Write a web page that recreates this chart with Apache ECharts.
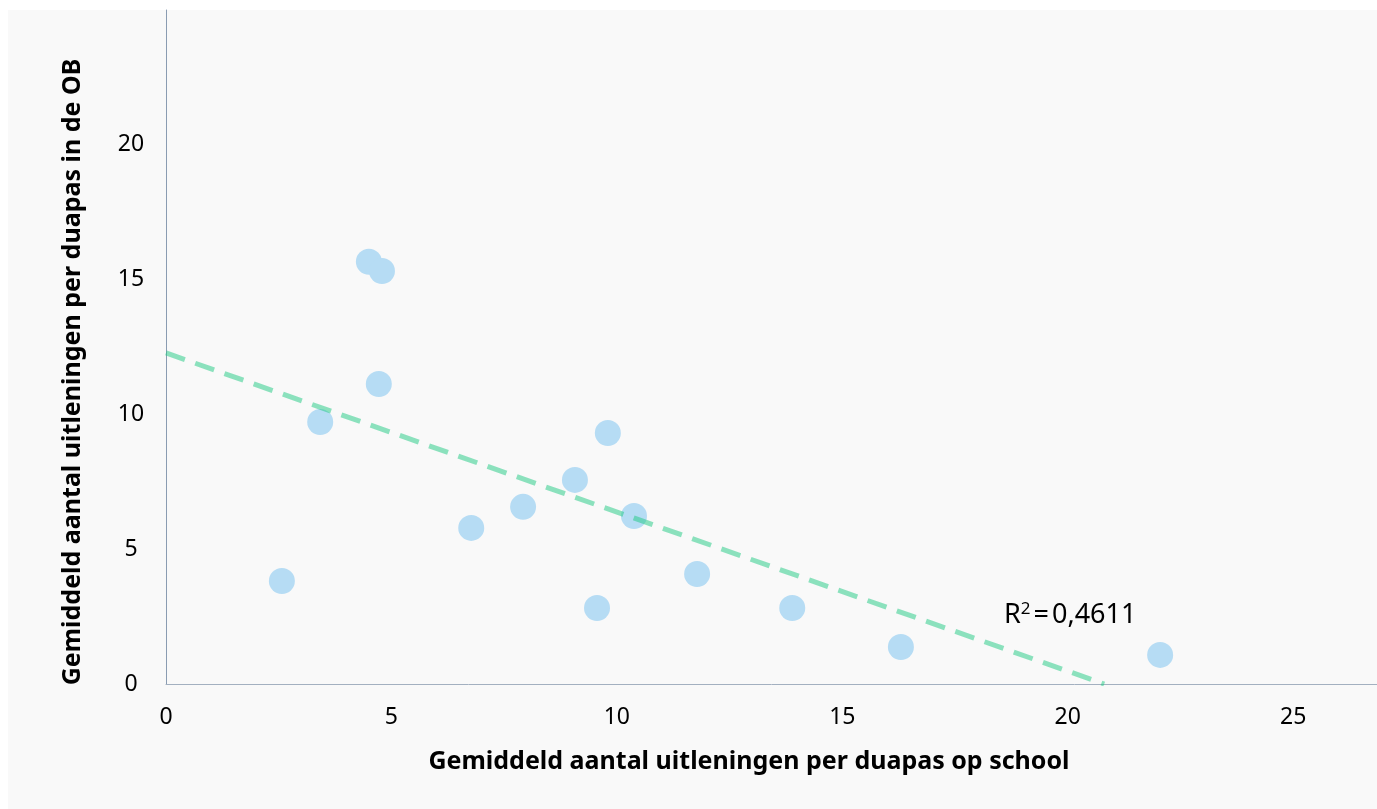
<!DOCTYPE html>
<html>
<head>
<meta charset="utf-8">
<script src="https://cdn.jsdelivr.net/npm/echarts@6/dist/echarts.min.js"></script>
<style>
html,body{margin:0;padding:0;background:#ffffff;}
#chart{width:1377px;height:809px;}
</style>
</head>
<body>
<div id="chart"></div>
<script>
// Data
var xValues = [2.57, 3.42, 4.50, 4.79, 4.72, 6.77, 7.92, 9.07, 9.80, 9.56, 10.38, 11.78, 13.89, 16.30, 22.05];
var yValues = [3.82, 9.72, 15.66, 15.32, 11.13, 5.79, 6.57, 7.57, 9.31, 2.82, 6.23, 4.08, 2.82, 1.37, 1.08];
var trendX = [0, 20.81];
var trendY = [12.28, 0];
var xTitle = 'Gemiddeld aantal uitleningen per duapas op school';
var yTitle = 'Gemiddeld aantal uitleningen per duapas in de OB';
var rSquaredLabel = '0,4611';

var points = xValues.map(function (x, i) { return [x, yValues[i]]; });
var trend = trendX.map(function (x, i) { return [x, trendY[i]]; });

var FONT = '"Noto Sans", "Open Sans", sans-serif';
var chart = echarts.init(document.getElementById('chart'), null, {renderer: 'canvas'});
chart.setOption({
  backgroundColor: '#ffffff',
  animation: false,
  graphic: [
    {type: 'rect', z: -10, silent: true, shape: {x: 8, y: 10, width: 1369, height: 799}, style: {fill: '#f9f9f9'}},
    {type: 'text', z: 10, x: 749, y: 762, style: {text: xTitle, font: 'bold 25px ' + FONT, fill: '#000000', textAlign: 'center', textVerticalAlign: 'middle'}},
    {type: 'text', z: 10, x: 73, y: 372, rotation: Math.PI / 2, style: {text: yTitle, font: 'bold 25px ' + FONT, fill: '#000000', textAlign: 'center', textVerticalAlign: 'middle'}},
    {type: 'text', z: 10, x: 1004, y: 615, style: {
      text: '{r|R}{s|2}{e|=}{r|' + rSquaredLabel + '}',
      verticalAlign: 'middle',
      rich: {
        r: {fontSize: 27, fontFamily: FONT, color: '#000000'},
        e: {fontSize: 27, fontFamily: FONT, color: '#000000', padding: [0, 3, 0, 2]},
        s: {fontSize: 17, fontFamily: FONT, color: '#000000', verticalAlign: 'top', padding: [0, 1, 12, 0]}
      }
    }}
  ],
  grid: {left: 166, right: 0, top: 10, bottom: 125, containLabel: false},
  xAxis: {
    type: 'value', min: 0, max: 26.86, interval: 5,
    axisLine: {show: true, lineStyle: {color: '#a3b0c0', width: 1}},
    axisTick: {show: false},
    splitLine: {show: false},
    axisLabel: {show: true, showMaxLabel: false, margin: 22, fontSize: 23, fontFamily: FONT, color: '#000000',
      formatter: function (v) { return (Math.abs(v % 5) < 1e-9) ? String(v) : ''; }}
  },
  yAxis: {
    type: 'value', min: 0, max: 25, interval: 5,
    axisLine: {show: true, onZero: false, lineStyle: {color: '#8a9cb2', width: 1}},
    axisTick: {show: false},
    splitLine: {show: false},
    axisLabel: {show: true, showMaxLabel: false, align: 'center', margin: 35, fontSize: 23, fontFamily: FONT, color: '#000000'}
  },
  series: [
    {
      type: 'scatter', data: points, symbol: 'circle', symbolSize: 26, z: 2,
      itemStyle: {color: '#b6dcf4', opacity: 1}
    },
    {
      type: 'line', data: trend, symbol: 'none', z: 3,
      lineStyle: {color: '#1dc981', opacity: 0.5, width: 5, type: [20, 11]}
    }
  ]
});
</script>
</body>
</html>
